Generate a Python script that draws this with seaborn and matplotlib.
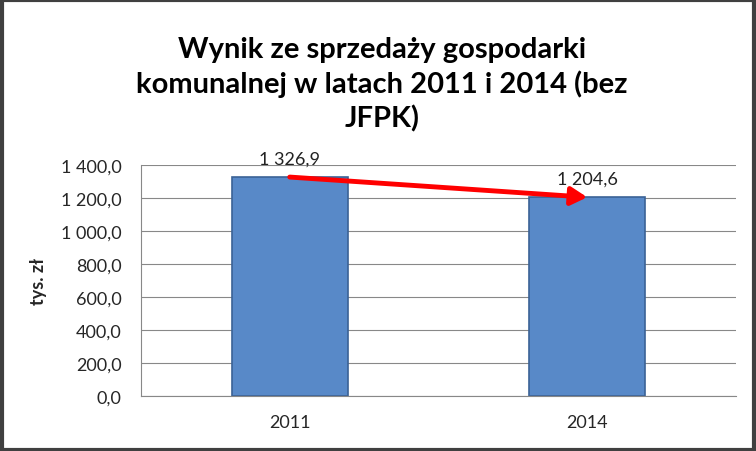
import matplotlib
matplotlib.use("Agg")
import matplotlib.pyplot as plt
import seaborn as sns
import pandas as pd
from matplotlib.patches import Rectangle

years = ["2011", "2014"]
values = [1326.9, 1204.6]
value_labels = ["1 326,9", "1 204,6"]
yticks = [0, 200, 400, 600, 800, 1000, 1200, 1400]
ytick_labels = ["0,0", "200,0", "400,0", "600,0", "800,0", "1 000,0", "1 200,0", "1 400,0"]
title = "Wynik ze sprzedaży gospodarki\nkomunalnej w latach 2011 i 2014 (bez\nJFPK)"
ylabel = "tys. zł"

sns.set_theme(style="white")
plt.rcParams['font.family'] = ['Lato', 'DejaVu Sans']

df = pd.DataFrame({"year": years, "value": values})

fig = plt.figure(figsize=(7.56, 4.52), dpi=100)
ax = fig.add_axes([141/756, 1 - 397/452, 595/756, 231/452])

sns.barplot(data=df, x="year", y="value", ax=ax, color="#5889C8", width=0.39,
            edgecolor="#3B6296", linewidth=1.2, saturation=1)

ax.set_ylim(0, 1400)
ax.set_xlim(-0.5, 1.5)
ax.set_yticks(yticks)
ax.set_yticklabels(ytick_labels, fontsize=13)
ax.set_xticks([-0.5, 0.5, 1.5], minor=False)
ax.set_xticklabels([])
ax.set_xticks([0, 1], minor=True)
ax.set_xticklabels(years, minor=True, fontsize=13)
ax.tick_params(axis="x", which="minor", length=0, pad=13)
ax.tick_params(axis="x", which="major", length=6, direction="out", color="#888888")
ax.tick_params(axis="y", length=7, direction="out", color="#888888", pad=7)
ax.set_xlabel("")
ax.set_ylabel(ylabel, fontsize=13, fontweight="bold", labelpad=10)

ax.grid(axis="y", color="#888888", linewidth=0.8)
ax.set_axisbelow(True)
for s in ["top", "right"]:
    ax.spines[s].set_visible(False)
for s in ["left", "bottom"]:
    ax.spines[s].set_color("#888888")
    ax.spines[s].set_linewidth(0.8)

for i, (v, lab) in enumerate(zip(values, value_labels)):
    ax.text(i, v + 65, lab, ha="center", va="bottom", fontsize=13, color="#222222")

ax.annotate("", xy=(1, values[1]), xytext=(0, values[0]),
            arrowprops=dict(arrowstyle="-|>,head_length=0.8,head_width=0.45",
                            color="#FF0000", lw=3.5, shrinkA=0, shrinkB=0))

fig.text(0.505, 1 - 85/452, title, ha="center", va="center", fontsize=21,
         fontweight="bold", linespacing=1.32, color="#000000")

fig.add_artist(Rectangle((0.002, 0.003), 0.996, 0.994, transform=fig.transFigure,
                         fill=False, edgecolor="#404040", linewidth=3))

fig.savefig("out.png", dpi=100)
